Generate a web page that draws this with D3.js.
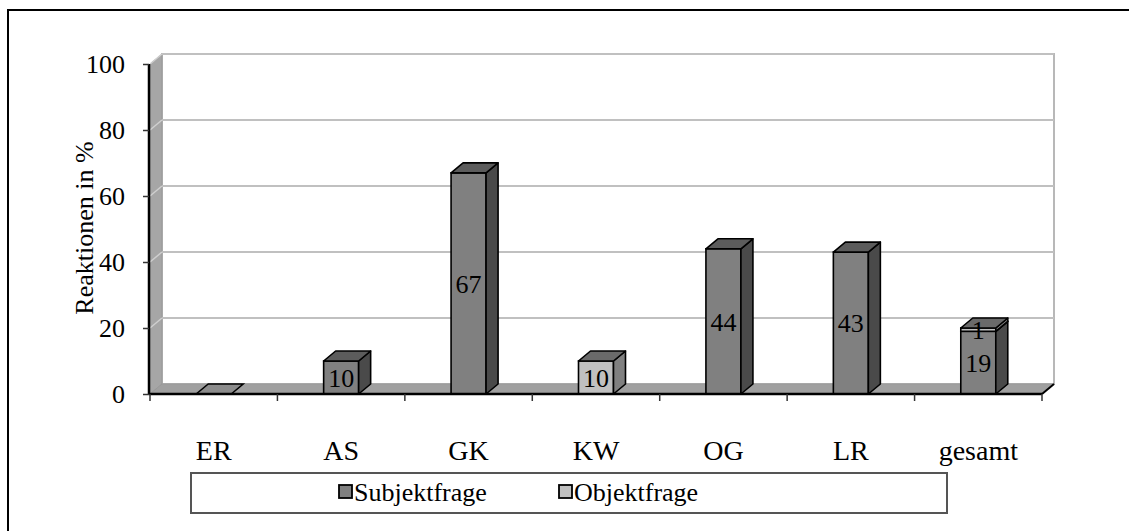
<!DOCTYPE html>
<html><head><meta charset="utf-8">
<script src="https://cdn.jsdelivr.net/npm/d3@7"></script>
<style>body{margin:0;background:#fff}svg{display:block}text{font-family:"Liberation Serif","Times New Roman",serif;fill:#000}</style>
</head><body>
<script>
const categories = ["ER","AS","GK","KW","OG","LR","gesamt"];
const seriesNames = ["Subjektfrage","Objektfrage"];
const subjekt = [0,10,67,0,44,43,19];
const objekt  = [0,0,0,10,0,0,1];
const yTicks = [0,20,40,60,80,100];
const yTitle = "Reaktionen in %";

const W=1129,H=531;
const svg=d3.select("body").append("svg").attr("width",W).attr("height",H);
const DX=12, DY=-10;
const x=d3.scaleBand().domain(categories).range([150,1042]).paddingInner(0).paddingOuter(0);
const y=d3.scaleLinear().domain([0,100]).range([394,64]);
const barW=35;
const colors={Subjektfrage:{front:"#808080",side:"#4a4a4a",top:"#5c5c5c"},Objektfrage:{front:"#c0c0c0",side:"#808080",top:"#6a6a6a"}};

// outer border
svg.append("rect").attr("x",8).attr("y",10).attr("width",1130).attr("height",530).attr("fill","none").attr("stroke","#000").attr("stroke-width",2);

const x0=x.range()[0], x1=x.range()[1];
const g=svg.append("g");
// back wall
g.append("rect").attr("x",x0+DX).attr("y",y(100)+DY).attr("width",x1-x0).attr("height",y(0)-y(100)).attr("fill","#fff").attr("stroke","#b8b8b8").attr("stroke-width",2);
// left wall
g.append("path").attr("d",`M${x0},${y(100)}L${x0+DX},${y(100)+DY}L${x0+DX},${y(0)+DY}L${x0},${y(0)}Z`).attr("fill","#a6a6a6").attr("stroke","#999").attr("stroke-width",1);
// gridlines
yTicks.filter(t=>t>0).forEach(t=>{
  g.append("line").attr("x1",x0+DX).attr("x2",x1+DX).attr("y1",y(t)+DY).attr("y2",y(t)+DY).attr("stroke","#c0c0c0").attr("stroke-width",2);
  g.append("line").attr("x1",x0).attr("x2",x0+DX).attr("y1",y(t)).attr("y2",y(t)+DY).attr("stroke","#cfcfcf").attr("stroke-width",1.5);
});
// floor
g.append("path").attr("d",`M${x0},${y(0)}L${x0+DX},${y(0)+DY}L${x1+DX},${y(0)+DY}L${x1},${y(0)}Z`).attr("fill","#a0a0a0").attr("stroke","#999").attr("stroke-width",1);
g.append("line").attr("x1",x1).attr("y1",y(0)).attr("x2",x1+DX).attr("y2",y(0)+DY).attr("stroke","#000").attr("stroke-width",2);

// bars
const data=categories.map((c,i)=>({cat:c,vals:[subjekt[i],objekt[i]]}));
data.forEach(d=>{
  const cx=x(d.cat)+x.bandwidth()/2, bx=cx-barW/2;
  let base=0;
  const total=d.vals[0]+d.vals[1];
  if(total===0){
    const yy=y(0);
    g.append("path").attr("d",`M${bx},${yy}L${bx+barW},${yy}L${bx+barW+DX},${yy+DY}L${bx+DX},${yy+DY}Z`).attr("fill","#8c8c8c").attr("stroke","#000").attr("stroke-width",1.5);
    return;
  }
  d.vals.forEach((v,si)=>{
    if(v<=0) return;
    const c=colors[seriesNames[si]];
    const yb=y(base), yt=y(base+v);
    g.append("rect").attr("x",bx).attr("y",yt).attr("width",barW).attr("height",yb-yt).attr("fill",c.front).attr("stroke","#000").attr("stroke-width",1.6);
    g.append("path").attr("d",`M${bx+barW},${yb}L${bx+barW+DX},${yb+DY}L${bx+barW+DX},${yt+DY}L${bx+barW},${yt}Z`).attr("fill",c.side).attr("stroke","#000").attr("stroke-width",1.6).attr("stroke-linejoin","round");
    g.append("path").attr("d",`M${bx},${yt}L${bx+barW},${yt}L${bx+barW+DX},${yt+DY}L${bx+DX},${yt+DY}Z`).attr("fill",c.top).attr("stroke","#000").attr("stroke-width",1.6).attr("stroke-linejoin","round");
    base+=v;
  });
  base=0;
  d.vals.forEach((v,si)=>{
    if(v<=0){return;}
    const ym=(y(base)+y(base+v))/2;
    g.append("text").attr("x",cx).attr("y",ym).attr("dy","0.35em").attr("text-anchor","middle").attr("font-size",26).text(v);
    base+=v;
  });
});

// axes
const yAxis=d3.axisLeft(y).tickValues(yTicks).tickSize(6).tickPadding(18);
const ya=svg.append("g").attr("transform",`translate(${x0-1},0)`).call(yAxis);
ya.select(".domain").attr("stroke","#000").attr("stroke-width",2.5).attr("d",`M0,${y(100)}V${y(0)}`);
ya.selectAll(".tick line").attr("stroke","#333").attr("stroke-width",1.5);
ya.selectAll(".tick text").attr("font-size",26).attr("font-family","Liberation Serif");

const xb=d3.range(categories.length+1).map(i=>x0+i*x.bandwidth());
svg.append("line").attr("x1",x0-1).attr("x2",x1).attr("y1",y(0)).attr("y2",y(0)).attr("stroke","#000").attr("stroke-width",2.5);
xb.forEach(v=>svg.append("line").attr("x1",v).attr("x2",v).attr("y1",y(0)).attr("y2",y(0)+7).attr("stroke","#333").attr("stroke-width",1.5));
const xAxis=d3.axisBottom(x).tickSize(0).tickPadding(0);
const xa=svg.append("g").attr("transform",`translate(0,${y(0)})`).call(xAxis);
xa.select(".domain").remove();
xa.selectAll(".tick text").attr("font-size",28).attr("font-family","Liberation Serif").attr("y",66).attr("dy","0");

// y title
svg.append("text").attr("transform",`translate(93,228) rotate(-90)`).attr("text-anchor","middle").attr("font-size",26).text(yTitle);

// legend
svg.append("rect").attr("x",191).attr("y",473).attr("width",756).attr("height",40).attr("fill","#fff").attr("stroke","#555").attr("stroke-width",2);
const legX=[339,559];
seriesNames.forEach((s,i)=>{
  svg.append("rect").attr("x",legX[i]).attr("y",485).attr("width",13).attr("height",13).attr("fill",colors[s].front).attr("stroke","#000").attr("stroke-width",1.8);
  svg.append("text").attr("x",legX[i]+15).attr("y",501).attr("font-size",26).text(s);
});
</script>
</body></html>
